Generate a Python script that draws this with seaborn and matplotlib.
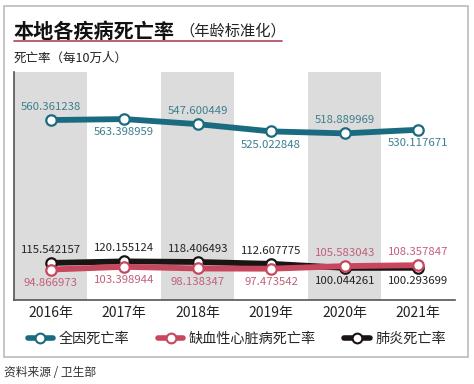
import numpy as np
import pandas as pd
import matplotlib
matplotlib.use("Agg")
import matplotlib.pyplot as plt
from matplotlib.lines import Line2D
from matplotlib.patches import Rectangle
import seaborn as sns

# ==================== 数据 ====================
years = ['2016年', '2017年', '2018年', '2019年', '2020年', '2021年']
all_cause = [560.361238, 563.398959, 547.600449, 525.022848, 518.889969, 530.117671]
heart = [94.866973, 103.398944, 98.138347, 97.473542, 105.583043, 108.357847]
pneumonia = [115.542157, 120.155124, 118.406493, 112.607775, 100.044261, 100.293699]

series_names = ['全因死亡率', '缺血性心脏病死亡率', '肺炎死亡率']
colors = ['#1b6b80', '#c9465f', '#1a1414']
label_colors = ['#3d7f90', '#c0607a', '#222222']

# 标签位置：+1 上方，-1 下方
pos_all = [1, -1, 1, -1, 1, -1]
pos_heart = [-1, -1, -1, -1, 1, 1]
pos_pneu = [1, 1, 1, 1, -1, -1]

# ==================== 全局设置 ====================
sns.set_style('white')
plt.rcParams['font.family'] = ['Noto Sans CJK SC', 'DejaVu Sans']
plt.rcParams['axes.unicode_minus'] = False

W, H = 474, 384
fig = plt.figure(figsize=(W / 100, H / 100), dpi=100)
ax = fig.add_axes([14 / W, 84 / H, 441 / W, 228 / H])

idx = np.arange(len(years))
df = pd.DataFrame({'idx': idx, 'all': all_cause, 'heart': heart, 'pneu': pneumonia})

# 灰色间隔背景
for i in range(0, len(years), 2):
    ax.axvspan(i - 0.5, i + 0.5, color='#dcdcdc', lw=0, zorder=0)

# 折线
for col, c, z in [('all', colors[0], 3), ('pneu', colors[2], 3), ('heart', colors[1], 4)]:
    sns.lineplot(data=df, x='idx', y=col, ax=ax, color=c, linewidth=4.2,
                 marker='o', markersize=7.5, markerfacecolor='white',
                 markeredgecolor=c, markeredgewidth=1.6, zorder=z)

# 数值标签
for vals, pos, lc in [(all_cause, pos_all, label_colors[0]),
                      (heart, pos_heart, label_colors[1]),
                      (pneumonia, pos_pneu, label_colors[2])]:
    for i, (v, p) in enumerate(zip(vals, pos)):
        ax.annotate(f'{v:.6f}', (i, v), xytext=(0, 9.5 * p), textcoords='offset points',
                    ha='center', va='center', fontsize=8.2, color=lc, zorder=6)

ax.set_xlim(-0.5, len(years) - 0.5)
ax.set_ylim(0, 710)
ax.set_xticks(idx)
ax.set_xticklabels(years, fontsize=10, color='#222222')
ax.set_xticks(np.arange(-0.5, len(years)), minor=True)
ax.tick_params(axis='x', which='major', length=0, pad=4)
ax.tick_params(axis='x', which='minor', length=4, direction='in', color='#555555', width=1)
ax.set_yticks([])
ax.set_xlabel('')
ax.set_ylabel('')
for s in ['top', 'right']:
    ax.spines[s].set_visible(False)
for s in ['left', 'bottom']:
    ax.spines[s].set_color('#555555')
    ax.spines[s].set_linewidth(1.2)

# ==================== 标题 ====================
fig.text(14 / W, 1 - 31 / H, '本地各疾病死亡率', fontsize=14.5, fontweight='bold',
         color='#111111', va='center', ha='left')
fig.text(179 / W, 1 - 31 / H, '（年龄标准化）', fontsize=11, color='#222222',
         va='center', ha='left')
fig.add_artist(Line2D([14 / W, 282 / W], [1 - 41 / H, 1 - 41 / H], color='#b0445c', lw=1.2))
fig.text(14 / W, 1 - 58 / H, '死亡率（每10万人）', fontsize=9, color='#222222',
         va='center', ha='left')

# 外框
fig.add_artist(Rectangle((4 / W, 1 - 357 / H), 464 / W, 351 / H, transform=fig.transFigure,
                         fill=False, edgecolor='#bbbbbb', lw=1.2))

# ==================== 图例 ====================
handles = [Line2D([0], [0], color=c, lw=4, marker='o', markersize=7, markerfacecolor='white',
                  markeredgecolor=c, markeredgewidth=1.5) for c in colors]
fig.legend(handles, series_names, loc='center', bbox_to_anchor=(0.5, 1 - 339 / H), ncol=3,
           frameon=False, fontsize=10.2, handlelength=1.8, columnspacing=2.0, handletextpad=0.4)

fig.text(4 / W, 1 - 372 / H, '资料来源 / 卫生部', fontsize=8.5, color='#333333',
         va='center', ha='left')

fig.savefig('out.png', dpi=100)
